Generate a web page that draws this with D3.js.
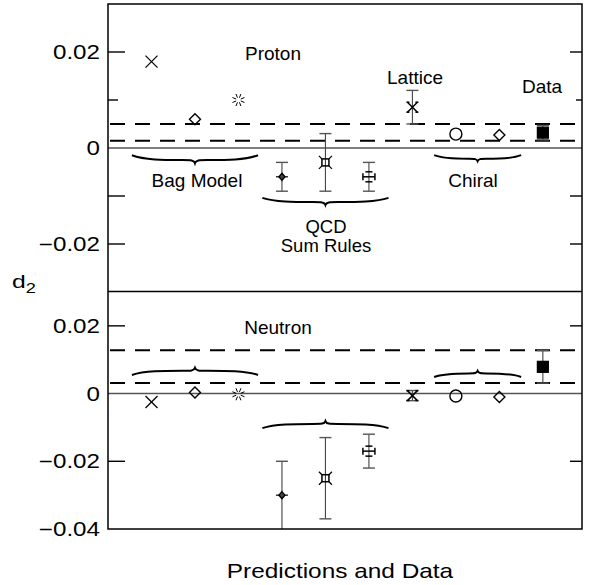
<!DOCTYPE html>
<html>
<head>
<meta charset="utf-8">
<script src="https://cdn.jsdelivr.net/npm/d3@7"></script>
<style>
  body { margin: 0; background: #fff; }
  text { font-family: "Liberation Sans", Arial, sans-serif; fill: #000; }
</style>
</head>
<body>
<svg id="chart" width="594" height="585"></svg>
<script>
// models along the x axis (index 1..10)
const models = ["Bag1", "Bag2", "Bag3", "QCD1", "QCD2", "QCD3", "Lattice", "Chiral1", "Chiral2", "Data"];
const symbols = ["cross", "diamond", "asterisk", "qcdStar", "qcdSquare", "qcdPlus", "lattice", "circle", "diamond2", "square"];

// proton d2 values and errors (0 = no error bar)
const protonVal = [0.018, 0.006, 0.010, -0.006, -0.003, -0.006, 0.0085, 0.0029, 0.0027, 0.0032];
const protonErr = [0, 0, 0, 0.003, 0.006, 0.003, 0.0035, 0, 0, 0.0015];
const protonBand = [0.005, 0.0015];

// neutron d2 values and errors
const neutronVal = [-0.0025, 0.0003, -0.0002, -0.030, -0.025, -0.017, -0.0006, -0.0007, -0.001, 0.0079];
const neutronErr = [0, 0, 0, 0.010, 0.012, 0.005, 0.0015, 0, 0, 0.0048];
const neutronBand = [0.0128, 0.0031];

const topTicks = [0.02, 0.01, -0.01, -0.02];
const topMinor = [0.01];
const topLabels = [0.02, 0, -0.02];
const botTicks = [0.02, -0.02];
const botLabels = [0.02, 0, -0.02, -0.04];

// groups of models marked with braces
const groups = [
  { name: "Bag Model", from: 0.55, to: 3.45 },
  { name: "QCD", from: 3.55, to: 6.45 },
  { name: "Chiral", from: 7.5, to: 9.5 }
];
const topBraceY = [-0.0015, -0.0104, -0.0015];
const botBraceY = [0.0055, -0.0102, 0.0049];

const svg = d3.select("#chart");
const left = 108, right = 582;

const x = d3.scaleLinear().domain([0, 10.9]).range([left, right]);
const yTop = d3.scaleLinear().domain([-0.03, 0.03]).range([292, 4]);
const yBot = d3.scaleLinear().domain([-0.04, 0.03]).range([529, 292]);

const fmt = v => v === 0 ? "0" : d3.format(".2f")(v).replace("-", "\u2212");

function stretchText(t, px, py, size, sx, anchor) {
  return svg.append("text")
    .attr("transform", `translate(${px},${py}) scale(${sx},1)`)
    .attr("text-anchor", anchor || "middle")
    .attr("font-size", size)
    .text(t);
}

// curly brace, dir = 1 tip points down, -1 tip points up
function bracePath(x1, x2, y, h, dir) {
  const w = x2 - x1, m = (x1 + x2) / 2, a = y + dir * h * 0.6, t = y + dir * h;
  return `M${x1},${y} C${x1 + w * 0.1},${a} ${x1 + w * 0.25},${a} ${m - w * 0.1},${a}` +
    ` C${m - w * 0.03},${a} ${m - 1},${a} ${m},${t}` +
    ` C${m + 1},${a} ${m + w * 0.03},${a} ${m + w * 0.1},${a}` +
    ` C${x2 - w * 0.25},${a} ${x2 - w * 0.1},${a} ${x2},${y}`;
}

function drawSymbol(g, kind, cx, cy) {
  const s = g.append("g").attr("transform", `translate(${cx},${cy})`)
    .attr("fill", "none").attr("stroke", "#000").attr("stroke-width", 1.2);
  const line = (x1, y1, x2, y2) => s.append("line").attr("x1", x1).attr("y1", y1).attr("x2", x2).attr("y2", y2);
  if (kind === "cross") {
    line(-6, -6, 6, 6); line(-6, 6, 6, -6);
  } else if (kind === "diamond" || kind === "diamond2") {
    s.append("path").attr("d", "M0,-5.5 L5.5,0 L0,5.5 L-5.5,0 Z").attr("stroke-width", 1.4);
  } else if (kind === "asterisk") {
    s.attr("stroke-width", 1);
    for (let k = 0; k < 8; k++) {
      const ang = k * Math.PI / 4 + Math.PI / 8;
      line(2.5 * Math.cos(ang), 2.5 * Math.sin(ang), 6.5 * Math.cos(ang), 6.5 * Math.sin(ang));
    }
  } else if (kind === "qcdStar") {
    line(-6, 0, 6, 0);
    s.append("path").attr("d", "M0,-3.5 L3,0 L0,3.5 L-3,0 Z").attr("fill", "#444").attr("stroke-width", 1.4);
  } else if (kind === "qcdSquare") {
    s.append("rect").attr("x", -3.5).attr("y", -3.5).attr("width", 7).attr("height", 7).attr("stroke-width", 1.5);
    line(-3.5, -3.5, -6.5, -6.5); line(3.5, -3.5, 6.5, -6.5);
    line(-3.5, 3.5, -6.5, 6.5); line(3.5, 3.5, 6.5, 6.5);
  } else if (kind === "qcdPlus") {
    s.attr("stroke-width", 1.5);
    line(-6, 0, 6, 0); line(-6, -3.5, -6, 3.5); line(6, -3.5, 6, 3.5);
    line(-3.5, -5, 3.5, -5); line(-3.5, 5, 3.5, 5);
  } else if (kind === "lattice") {
    s.attr("stroke-width", 1.5);
    line(-5, -5, 5, 5); line(-5, 5, 5, -5);
    line(-6, -5, -3, -5); line(3, -5, 6, -5);
    line(-6, 5, -3, 5); line(3, 5, 6, 5);
  } else if (kind === "circle") {
    s.append("circle").attr("r", 6).attr("stroke-width", 1.4);
  } else if (kind === "square") {
    s.append("rect").attr("x", -5.5).attr("y", -5.5).attr("width", 11).attr("height", 11).attr("fill", "#000");
  }
}

function drawPanel(y, vals, errs, band, ticks, minor, labels, braceY, braceH, dir) {
  const g = svg.append("g");
  // zero line
  g.append("line").attr("x1", left).attr("x2", right).attr("y1", y(0)).attr("y2", y(0))
    .attr("stroke", "#555").attr("stroke-width", 1.6);
  // data band
  g.selectAll(".band").data(band).join("line")
    .attr("x1", left + 2).attr("x2", right).attr("y1", d => y(d)).attr("y2", d => y(d))
    .attr("stroke", "#000").attr("stroke-width", 2).attr("stroke-dasharray", "15,10");
  // ticks
  ticks.forEach(t => {
    const isMinor = minor.includes(t);
    g.append("line").attr("x1", left).attr("x2", left + (isMinor ? 10 : 17))
      .attr("y1", y(t)).attr("y2", y(t)).attr("stroke", "#000").attr("stroke-width", 1.4);
    g.append("line").attr("x1", right).attr("x2", right - (isMinor ? 6 : 12))
      .attr("y1", y(t)).attr("y2", y(t)).attr("stroke", "#000").attr("stroke-width", 1.4);
  });
  labels.forEach(t => stretchText(fmt(t), 100, y(t) + 7, 19.5, 1.24, "end"));
  // error bars
  vals.forEach((v, i) => {
    if (!errs[i]) return;
    const cx = x(i + 1);
    const lo = Math.max(v - errs[i], y.domain()[0]), hi = v + errs[i];
    g.append("line").attr("x1", cx).attr("x2", cx).attr("y1", y(lo)).attr("y2", y(hi))
      .attr("stroke", "#444").attr("stroke-width", 1.1);
    [lo, hi].forEach(e => {
      if (e === y.domain()[0]) return;
      g.append("line").attr("x1", cx - 6).attr("x2", cx + 6).attr("y1", y(e)).attr("y2", y(e))
        .attr("stroke", "#555").attr("stroke-width", 1.4);
    });
  });
  vals.forEach((v, i) => drawSymbol(g, symbols[i], x(i + 1), y(v)));
  // braces
  groups.forEach((gr, i) => {
    g.append("path").attr("d", bracePath(x(gr.from), x(gr.to), y(braceY[i]), braceH[i], dir))
      .attr("fill", "none").attr("stroke", "#000").attr("stroke-width", 2);
  });
}

drawPanel(yTop, protonVal, protonErr, protonBand, topTicks, topMinor, topLabels, topBraceY, [8, 7, 6], 1);
drawPanel(yBot, neutronVal, neutronErr, neutronBand, botTicks, [], botLabels, botBraceY, [7, 7, 6], -1);

// frame and divider
svg.append("rect").attr("x", left).attr("y", 4).attr("width", right - left).attr("height", 525)
  .attr("fill", "none").attr("stroke", "#000").attr("stroke-width", 1.5);
svg.append("line").attr("x1", left).attr("x2", right).attr("y1", 291.5).attr("y2", 291.5)
  .attr("stroke", "#000").attr("stroke-width", 1.5);

// annotations
const lbl = (t, px, py, fs) => stretchText(t, px, py + 7, fs || 19, 1, "middle");
lbl("Proton", 273, 53);
lbl("Bag Model", 197, 180);
lbl("QCD", 326, 226, 18.5);
lbl("Sum Rules", 326, 245, 18.5);
lbl("Lattice", 415, 77);
lbl("Data", 542, 86);
lbl("Chiral", 473, 180);
lbl("Neutron", 278, 327);

// axis titles
const d2 = svg.append("text").attr("transform", "translate(12,288) scale(1.3,1)").attr("font-size", 19);
d2.append("tspan").text("d");
d2.append("tspan").attr("font-size", 14).attr("dy", 5).text("2");
stretchText("Predictions and Data", 340, 578, 20, 1.22, "middle");
</script>
</body>
</html>
